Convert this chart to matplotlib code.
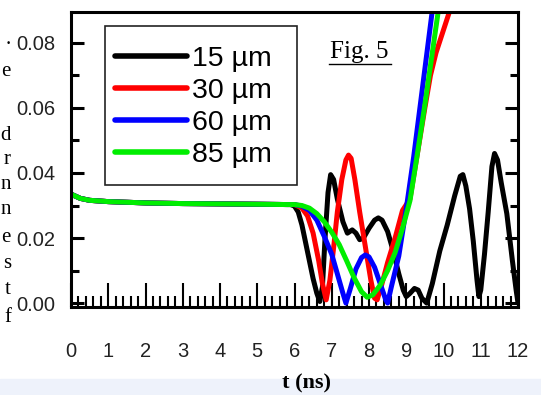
import matplotlib
matplotlib.use('Agg')
import matplotlib.pyplot as plt
from matplotlib.lines import Line2D
from matplotlib.patches import Rectangle
from matplotlib.ticker import MultipleLocator

# flat part shared by all four curves (they overlap there)
t_flat = [0.0, 0.25, 0.5, 1.0, 2.0, 3.0, 4.0, 5.0, 5.8]
v_flat = [0.0335, 0.0322, 0.0316, 0.0312, 0.0308, 0.0306, 0.0305, 0.0304, 0.0303]

# 15 um
t_15 = [5.9, 6.0, 6.1, 6.2, 6.3, 6.4, 6.5, 6.6, 6.68, 6.75, 6.82, 6.9, 6.97, 7.05,
        7.15, 7.3, 7.42, 7.55, 7.65, 7.75, 7.85, 8.0, 8.15, 8.25, 8.35, 8.5, 8.65,
        8.8, 8.92, 9.0, 9.1, 9.22, 9.32, 9.42, 9.55, 9.7, 9.9, 10.1, 10.3, 10.45,
        10.52, 10.6, 10.7, 10.8, 10.9, 10.95, 11.0, 11.1, 11.2, 11.3, 11.37, 11.45,
        11.55, 11.7, 11.85, 11.95, 12.0]
v_15 = [0.0303, 0.0298, 0.0280, 0.0240, 0.0185, 0.0130, 0.0075, 0.0030, 0.0005,
        0.0050, 0.0200, 0.0340, 0.0395, 0.0380, 0.0320, 0.0250, 0.0215, 0.0225,
        0.0215, 0.0195, 0.0200, 0.0230, 0.0255, 0.0262, 0.0255, 0.0220, 0.0160,
        0.0090, 0.0040, 0.0020, 0.0030, 0.0045, 0.0040, 0.0015, 0.0000, 0.0060,
        0.0160, 0.0240, 0.0330, 0.0390, 0.0395, 0.0360, 0.0290, 0.0190, 0.0070,
        0.0020, 0.0040, 0.0150, 0.0280, 0.0420, 0.0460, 0.0440, 0.0370, 0.0275,
        0.0130, 0.0040, 0.0000]

# 30 um
t_30 = [6.0, 6.2, 6.35, 6.5, 6.65, 6.75, 6.85, 6.95, 7.05, 7.15, 7.27, 7.38, 7.45,
        7.52, 7.62, 7.75, 7.9, 8.05, 8.15, 8.22, 8.35, 8.5, 8.7, 8.9, 9.1, 9.3,
        9.5, 9.65, 9.8, 10.0, 10.2]
v_30 = [0.0303, 0.0292, 0.0268, 0.0215, 0.0130, 0.0060, 0.0010, 0.0070, 0.0170,
        0.0280, 0.0380, 0.0440, 0.0455, 0.0445, 0.0380, 0.0280, 0.0175, 0.0070,
        0.0015, 0.0010, 0.0060, 0.0125, 0.0200, 0.0285, 0.0320, 0.0460, 0.0600,
        0.0700, 0.0770, 0.0840, 0.0910]

# 60 um
t_60 = [6.0, 6.2, 6.4, 6.6, 6.8, 7.0, 7.15, 7.3, 7.38, 7.5, 7.65, 7.8, 7.9, 8.0,
        8.15, 8.3, 8.45, 8.5, 8.6, 8.8, 9.0, 9.2, 9.4, 9.6, 9.8]
v_60 = [0.0303, 0.0298, 0.0285, 0.0255, 0.0205, 0.0150, 0.0090, 0.0030, 0.0000,
        0.0045, 0.0105, 0.0140, 0.0148, 0.0142, 0.0110, 0.0060, 0.0010, 0.0000,
        0.0050, 0.0145, 0.0290, 0.0450, 0.0630, 0.0810, 0.0990]

# 85 um
t_85 = [6.0, 6.2, 6.4, 6.6, 6.8, 7.0, 7.2, 7.4, 7.6, 7.8, 7.95, 8.1, 8.3, 8.5,
        8.7, 8.9, 9.1, 9.3, 9.5, 9.7, 9.9]
v_85 = [0.0303, 0.0300, 0.0292, 0.0275, 0.0250, 0.0218, 0.0180, 0.0130, 0.0078,
        0.0035, 0.0018, 0.0025, 0.0055, 0.0100, 0.0155, 0.0230, 0.0315, 0.0460,
        0.0610, 0.0770, 0.0930]

labels = ['15 µm', '30 µm', '60 µm', '85 µm']
colors = ['black', '#ff0000', '#0000ff', '#00ee00']

# letters of the neighbouring text column, cut off by the crop
side_letters = ['.', 'e', 'd', 'r', 'n', 'n', 'e', 's', 't', 'f']
side_rows = [40, 72, 135, 160, 184, 210, 237, 263, 290, 317]

fig = plt.figure(figsize=(5.41, 3.95), dpi=100)
fig.patches.append(Rectangle((0, 0), 1, 16 / 395, transform=fig.transFigure,
                             color='#eef2fb', zorder=0))
ax = fig.add_axes([71 / 541, 88 / 395, 447 / 541, 295 / 395])

for t, v, lab, c in zip([t_15, t_30, t_60, t_85], [v_15, v_30, v_60, v_85],
                        labels, colors):
    ax.plot(t_flat + t, v_flat + v, color=c, lw=3.6, label=lab,
            solid_capstyle='round', solid_joinstyle='round')

ax.set_xlim(0, 12)
ax.set_ylim(-0.0012, 0.0895)
ax.xaxis.set_major_locator(MultipleLocator(1))
ax.xaxis.set_minor_locator(MultipleLocator(0.2))
ax.yaxis.set_major_locator(MultipleLocator(0.02))
ax.yaxis.set_minor_locator(MultipleLocator(0.01))
ax.yaxis.set_major_formatter(lambda y, p: '%.2f' % y)

for s in ax.spines.values():
    s.set_linewidth(2.2)
ax.tick_params(axis='x', which='major', direction='in', length=17, width=1.5,
               pad=25, top=False)
ax.tick_params(axis='x', which='minor', direction='in', length=8, width=1.5,
               top=False)
ax.tick_params(axis='y', which='major', direction='in', length=9.5, width=2.2,
               pad=11, left=True, right=True)
ax.tick_params(axis='y', which='minor', direction='in', length=5.5, width=2.2,
               left=True, right=True)
for lbl in ax.get_xticklabels() + ax.get_yticklabels():
    lbl.set_family('Liberation Sans')
    lbl.set_fontsize(14.5)
    lbl.set_color('#222222')

# legend box drawn by hand so its padding matches the original
ax.add_patch(Rectangle((0.076, 0.414), 0.430, 0.539, transform=ax.transAxes,
                       fill=True, facecolor='white', edgecolor='#222222',
                       lw=1.2, zorder=3))
leg = ax.legend(loc='upper left', bbox_to_anchor=(0.098, 0.885), frameon=False,
                borderaxespad=0, borderpad=0,
                prop={'family': 'Liberation Sans', 'size': 20.5},
                handlelength=2.55, handletextpad=0.15, labelspacing=0.21)
leg.set_zorder(4)
for h in leg.get_lines():
    h.set_linewidth(4)

fig.text(307 / 541, 1 - 383 / 395, 't (ns)', ha='center', va='center',
         family='Liberation Serif', fontweight='bold', fontsize=16)

# "Fig. 5" note, underlined
fig.text(359 / 541, 1 - 52 / 395, 'Fig. 5', ha='center', va='center',
         family='Liberation Serif', fontsize=18)
fig.add_artist(Line2D([329 / 541, 391 / 541], [1 - 64 / 395, 1 - 64 / 395],
                      color='black', lw=1))

for ch, row in zip(side_letters, side_rows):
    fig.text(11 / 541, 1 - row / 395, ch, ha='right', va='center',
             family='Liberation Serif', fontsize=15)

fig.savefig('out.png', dpi=100)
